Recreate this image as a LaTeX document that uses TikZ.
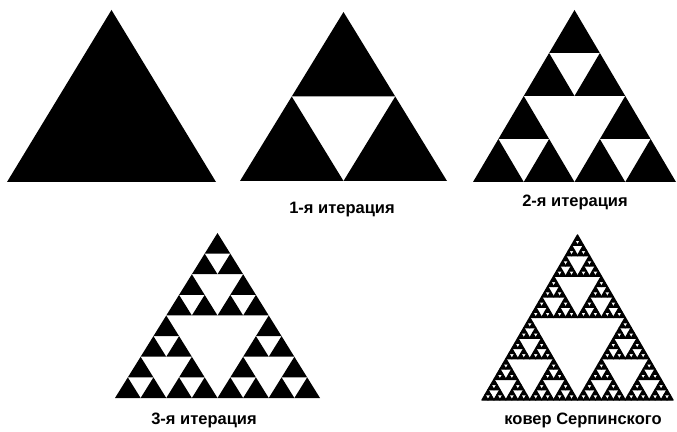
\documentclass[tikz,border=0pt]{standalone}
\usepackage{fontspec}
\setmainfont{Liberation Sans}
\usepackage{tikz}

% level, left x, base y, width, height
\def\sierp#1#2#3#4#5{%
  \ifnum#1=0
    \fill[piece] (#2,#3) -- ++(#4,0) -- ++(-0.5*#4,#5) -- cycle;
  \else
    \pgfmathsetmacro\sw{#4/2}%
    \pgfmathsetmacro\sh{#5/2}%
    \pgfmathsetmacro\xa{#2+\sw}%
    \pgfmathsetmacro\xb{#2+\sw/2}%
    \pgfmathsetmacro\yb{#3+\sh}%
    \edef\sierpnext{%
      \noexpand\sierp{\the\numexpr#1-1\relax}{#2}{#3}{\sw}{\sh}%
      \noexpand\sierp{\the\numexpr#1-1\relax}{\xa}{#3}{\sw}{\sh}%
      \noexpand\sierp{\the\numexpr#1-1\relax}{\xb}{\yb}{\sw}{\sh}}%
    \sierpnext
  \fi}

\begin{document}
\begin{tikzpicture}[x=1pt, y=1pt,
  piece/.style={black},
  caption/.style={inner sep=0pt, font=\fontsize{16.5}{18}\selectfont\bfseries}]
\useasboundingbox (0,0) rectangle (677,431);
\sierp{0}{7}{249}{209}{172}
\sierp{1}{240}{250}{207}{169}
\node[caption] (lbl1) at (342,221) {1-я итерация};
\sierp{2}{473}{249}{203}{172}
\node[caption] (lbl2) at (575,229) {2-я итерация};
\sierp{3}{115}{33}{205}{165}
\node[caption] (lbl3) at (204,11) {3-я итерация};
\begin{scope}[piece/.append style={draw, line width=1.3pt, line join=round}]
\sierp{5}{482}{31}{191}{165}
\end{scope}
\node[caption] (lbl4) at (583,11) {ковер Серпинского};
\end{tikzpicture}
\end{document}
